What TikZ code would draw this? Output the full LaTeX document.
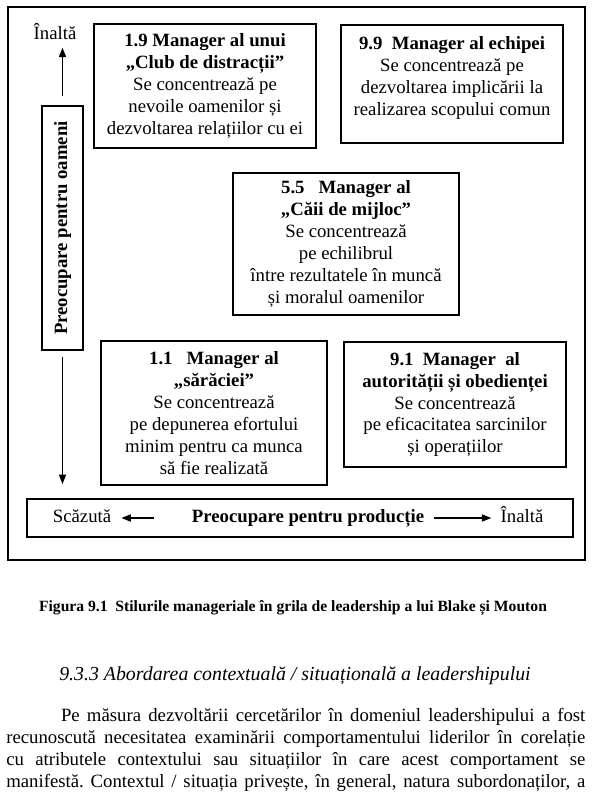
\documentclass[tikz,border=0pt]{standalone}
\usepackage{fontspec}
\setmainfont{Liberation Serif}
\usepackage{tikz}
\usetikzlibrary{arrows.meta}

\begin{document}
\begin{tikzpicture}[x=0.64pt,y=-0.64pt,
          every node/.style={font=\fontsize{12}{14}\selectfont},
          box/.style={draw,line width=0.8pt,align=center,inner sep=0pt},
          axa/.style={inner sep=0pt,text height=8pt,text depth=2pt},
          ar/.style={-{Triangle[length=6pt,width=4.6pt]},line width=0.7pt}]
        \useasboundingbox (0,0) rectangle (599,793);
        % cadrul grilei
        \node[draw,line width=0.8pt,minimum width=369.3pt,minimum height=353.9pt]
        (cadru) at (296.5,283.5) {};
        % stilurile
        \node[box,minimum width=142.1pt,minimum height=79.4pt]
        (club) at (205,86)
        {\textbf{1.9 Manager al unui}\\\textbf{„Club de distracții”}\\Se concentrează pe\\nevoile oamenilor și\\dezvoltarea relațiilor cu ei};
        \node[box,minimum width=142.1pt,minimum height=75.5pt]
        (echipa) at (452,84)
        {\textbf{9.9~~Manager al echipei}\\Se concentrează pe\\dezvoltarea implicării la\\realizarea scopului comun\rule[-10pt]{0pt}{0pt}};
        \node[box,minimum width=144.6pt,minimum height=90.9pt]
        (mijloc) at (346,244)
        {\textbf{5.5~~~Manager al}\\\textbf{„Căii de mijloc”}\\Se concentrează\\pe echilibrul\\între rezultatele în muncă\\și moralul oamenilor};
        \node[box,minimum width=144.6pt,minimum height=92.2pt]
        (saracie) at (214,413)
        {\textbf{1.1~~~Manager al}\\\textbf{„sărăciei”}\\Se concentrează\\pe depunerea efortului\\minim pentru ca munca\\să fie realizată};
        \node[box,minimum width=142.1pt,minimum height=80pt]
        (autoritate) at (455,404.5)
        {\textbf{9.1~~Manager~~al}\\\textbf{autorității și obedienței}\\Se concentrează\\pe eficacitatea sarcinilor\\și operațiilor};
        % axa verticala
        \node[box,minimum width=26.2pt,minimum height=156.2pt]
        (oameni) at (62.5,228) {\rotatebox{90}{\bfseries Preocupare pentru oameni}};
        \node[axa] (inaltaSus) at (55,35) {Înaltă};
        \draw[ar,shorten <=5.8pt,shorten >=3pt] (oameni.north) -- (oameni.north |- inaltaSus.south);
        \draw[ar,shorten <=3.8pt,shorten >=9.6pt] (oameni.south) -- (oameni.south |- 0,499);
        % axa orizontala
        \node[box,minimum width=349.4pt,minimum height=24.3pt]
        (productie) at (300,518) {};
        \node[axa] (scazuta) at (82,518) {Scăzută};
        \node[axa,font=\fontsize{12}{14}\selectfont\bfseries] (titlu) at (308,518) {Preocupare pentru producție};
        \node[axa] (inaltaJos) at (522,518) {Înaltă};
        \draw[ar,shorten <=24pt,shorten >=6.4pt] (titlu.west) -- (scazuta.east);
        \draw[ar,shorten <=6.4pt,shorten >=5.8pt] (titlu.east) -- (inaltaJos.west);
        % legenda si textul
        \node (legenda) at (293,608)
        {\fontsize{10}{12}\selectfont\bfseries Figura 9.1~~Stilurile manageriale în grila de leadership a lui Blake și Mouton};
        \node (titluSectiune) at (295,676)
        {\fontsize{12.7}{15}\selectfont\itshape 9.3.3 Abordarea contextuală / situațională a leadershipului};
        \node[anchor=base west,inner sep=0pt] (paragraf) at (6,721)
        {\parbox[t]{370.6pt}{\fontsize{12}{14.1}\selectfont\frenchspacing\hyphenpenalty=10000\tolerance=10000\parfillskip=0pt
        \hspace*{35pt}Pe măsura dezvoltării cercetărilor în domeniul leadershipului a fost\linebreak
        recunoscută necesitatea examinării comportamentului liderilor în corelație\linebreak
        cu atributele contextului sau situațiilor în care acest comportament se\linebreak
        manifestă. Contextul / situația privește, în general, natura subordonaților, a}};
      \end{tikzpicture}
\end{document}
